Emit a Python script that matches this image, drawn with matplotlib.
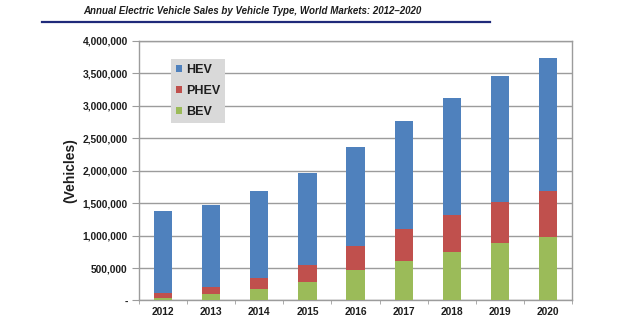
import numpy as np
import matplotlib.pyplot as plt
from matplotlib.patches import Patch
from matplotlib.lines import Line2D
from matplotlib.ticker import FuncFormatter, MultipleLocator

# ==========================
# Data
# ==========================
years = ["2012", "2013", "2014", "2015", "2016", "2017", "2018", "2019", "2020"]
bev = [40000, 105000, 180000, 280000, 470000, 610000, 745000, 880000, 970000]
phev = [70000, 95000, 160000, 260000, 370000, 485000, 575000, 635000, 720000]
hev = [1267000, 1270000, 1340000, 1430000, 1520000, 1665000, 1790000, 1935000, 2050000]

title = "Annual Electric Vehicle Sales by Vehicle Type, World Markets: 2012\u20132020"

# ==========================
# Style
# ==========================
plt.rcParams["font.family"] = ["Liberation Sans", "DejaVu Sans"]
c_hev = "#4F81BD"
c_phev = "#C0504D"
c_bev = "#9BBB59"
txt = "#1E1E1E"
grid = "#9C9C9C"

fig = plt.figure(figsize=(6.4, 3.22), dpi=100)
ax = fig.add_axes([0.217, 0.0668, 0.677, 0.807])

x = np.arange(len(years))
w = 0.38
bev_a = np.array(bev)
phev_a = np.array(phev)
hev_a = np.array(hev)

ax.bar(x, bev_a, w, color=c_bev, zorder=3)
ax.bar(x, phev_a, w, bottom=bev_a, color=c_phev, zorder=3)
ax.bar(x, hev_a, w, bottom=bev_a + phev_a, color=c_hev, zorder=3)

ax.set_xlim(-0.5, len(years) - 0.5)
ax.set_ylim(0, 4000000)
ax.yaxis.set_major_locator(MultipleLocator(500000))
ax.yaxis.set_major_formatter(FuncFormatter(lambda v, p: "-" if v == 0 else f"{int(v):,}"))
ax.grid(axis="y", color=grid, linewidth=1.0, zorder=0)

ax.set_xticks(x)
ax.set_xticklabels(years)
ax.set_xticks(np.arange(-0.5, len(years)), minor=True)
ax.tick_params(axis="x", which="major", length=0, pad=5)
ax.tick_params(axis="x", which="minor", length=3, color=grid, direction="out")
ax.tick_params(axis="y", length=5, color=grid, pad=3)

for lab in ax.get_xticklabels() + ax.get_yticklabels():
    lab.set_fontsize(7.4)
    lab.set_fontweight("bold")
    lab.set_color(txt)

for s in ax.spines.values():
    s.set_color(grid)
    s.set_linewidth(1.0)

ax.set_ylabel("(Vehicles)", fontsize=10, fontweight="bold", color=txt, labelpad=4)

# ==========================
# Legend
# ==========================
handles = [
    Patch(facecolor=c_hev, label="HEV"),
    Patch(facecolor=c_phev, label="PHEV"),
    Patch(facecolor=c_bev, label="BEV"),
]
leg = ax.legend(
    handles=handles,
    loc="upper left",
    bbox_to_anchor=(0.073, 0.929),
    borderaxespad=0,
    prop={"size": 9, "weight": "bold"},
    handlelength=0.55,
    handleheight=0.55,
    handletextpad=0.3,
    labelspacing=0.72,
    borderpad=0.4,
    frameon=True,
    fancybox=False,
    facecolor="#D9D9D9",
    edgecolor="none",
    framealpha=1.0,
)
for t in leg.get_texts():
    t.set_color(txt)

# ==========================
# Title with rule under it
# ==========================
fig.text(0.395, 0.966, title, ha="center", va="center", fontsize=7.0,
         fontweight="bold", style="italic", color=txt)
fig.add_artist(Line2D([0.065, 0.766], [0.932, 0.932], transform=fig.transFigure,
                      color="#1F2A7A", linewidth=1.6))

fig.savefig("out.png", dpi=100)
